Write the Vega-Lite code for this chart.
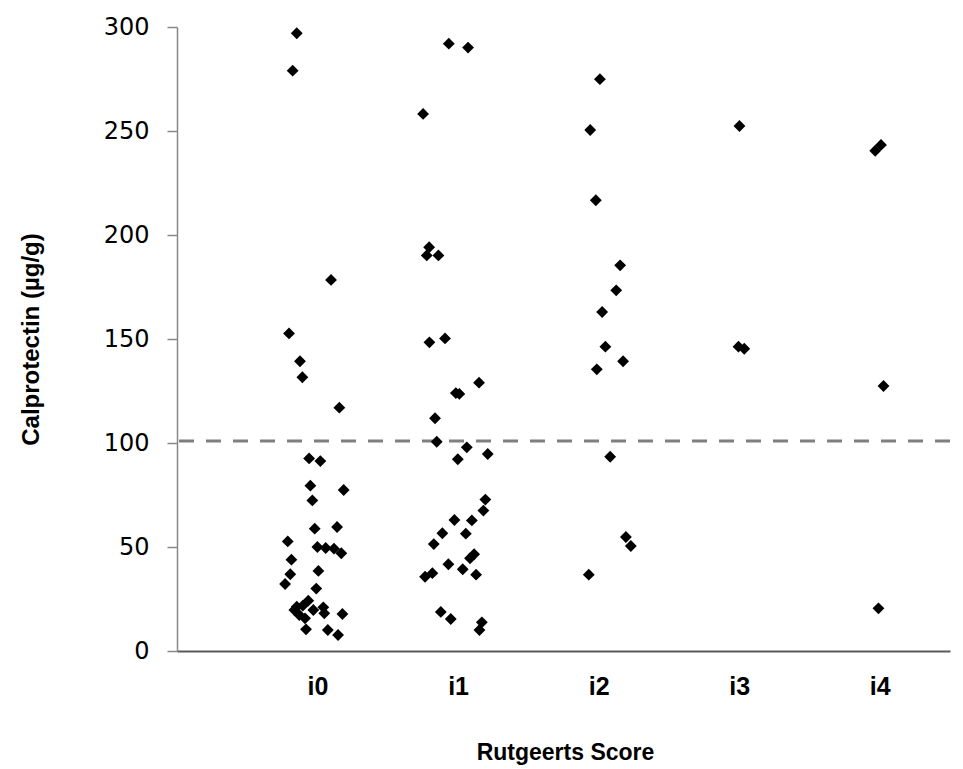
{
  "$schema": "https://vega.github.io/schema/vega-lite/v6.json",
  "width": 773,
  "height": 624,
  "autosize": {"type": "none"},
  "padding": {"left": 177, "top": 27, "right": 13, "bottom": 118},
  "background": "white",
  "config": {"view": {"stroke": null}},
  "datasets": {
    "points": [
      {"x": 0.852, "y": 297.0}, {"x": 0.823, "y": 279.0}, {"x": 1.096, "y": 178.4}, {"x": 0.797, "y": 152.7},
      {"x": 0.875, "y": 139.3}, {"x": 0.892, "y": 131.6}, {"x": 1.155, "y": 117.0}, {"x": 0.940, "y": 92.6},
      {"x": 1.020, "y": 91.3}, {"x": 0.949, "y": 79.5}, {"x": 1.186, "y": 77.4}, {"x": 0.963, "y": 72.4},
      {"x": 0.980, "y": 58.8}, {"x": 1.139, "y": 59.6}, {"x": 0.788, "y": 52.7}, {"x": 0.999, "y": 50.0},
      {"x": 1.058, "y": 49.5}, {"x": 1.117, "y": 49.2}, {"x": 1.169, "y": 47.0}, {"x": 0.814, "y": 43.9},
      {"x": 1.006, "y": 38.5}, {"x": 0.806, "y": 36.9}, {"x": 0.769, "y": 32.2}, {"x": 0.991, "y": 30.0},
      {"x": 0.934, "y": 24.2}, {"x": 0.852, "y": 21.3}, {"x": 0.895, "y": 21.8}, {"x": 0.835, "y": 19.7},
      {"x": 0.870, "y": 17.3}, {"x": 0.911, "y": 15.7}, {"x": 0.970, "y": 19.7}, {"x": 1.041, "y": 21.0},
      {"x": 1.048, "y": 18.1}, {"x": 1.177, "y": 17.8}, {"x": 0.918, "y": 10.4}, {"x": 1.073, "y": 10.1},
      {"x": 1.146, "y": 7.7},
      {"x": 1.934, "y": 292.0}, {"x": 2.071, "y": 290.1}, {"x": 1.751, "y": 258.2}, {"x": 1.794, "y": 194.1},
      {"x": 1.777, "y": 190.2}, {"x": 1.860, "y": 190.2}, {"x": 1.796, "y": 148.4}, {"x": 1.907, "y": 150.3},
      {"x": 2.149, "y": 129.0}, {"x": 1.984, "y": 124.0}, {"x": 2.009, "y": 123.6}, {"x": 1.836, "y": 111.9},
      {"x": 1.848, "y": 100.6}, {"x": 2.062, "y": 97.9}, {"x": 1.998, "y": 92.2}, {"x": 2.211, "y": 94.7},
      {"x": 2.194, "y": 72.8}, {"x": 2.180, "y": 67.5}, {"x": 1.974, "y": 63.0}, {"x": 2.098, "y": 62.8},
      {"x": 1.888, "y": 56.6}, {"x": 2.055, "y": 56.4}, {"x": 1.827, "y": 51.4}, {"x": 2.114, "y": 46.5},
      {"x": 2.085, "y": 44.6}, {"x": 1.931, "y": 41.7}, {"x": 2.033, "y": 39.3}, {"x": 1.817, "y": 37.4},
      {"x": 1.765, "y": 35.7}, {"x": 2.128, "y": 36.7}, {"x": 1.877, "y": 18.8}, {"x": 1.948, "y": 15.4},
      {"x": 2.169, "y": 13.8}, {"x": 2.152, "y": 10.1},
      {"x": 3.009, "y": 274.9}, {"x": 2.940, "y": 250.5}, {"x": 2.980, "y": 216.7}, {"x": 3.153, "y": 185.4},
      {"x": 3.125, "y": 173.4}, {"x": 3.025, "y": 163.0}, {"x": 3.048, "y": 146.3}, {"x": 3.174, "y": 139.3},
      {"x": 2.987, "y": 135.4}, {"x": 3.082, "y": 93.4}, {"x": 3.194, "y": 54.8}, {"x": 3.229, "y": 50.5},
      {"x": 2.930, "y": 36.7},
      {"x": 4.002, "y": 252.4}, {"x": 3.995, "y": 146.3}, {"x": 4.036, "y": 145.3},
      {"x": 4.968, "y": 240.5}, {"x": 5.009, "y": 243.3}, {"x": 5.027, "y": 127.4}, {"x": 4.991, "y": 20.5}
    ],
    "threshold": [{"value": 101}]
  },
  "layer": [
    {
      "data": {"name": "threshold"},
      "mark": {"type": "rule", "color": "#7f7f7f", "strokeWidth": 3, "strokeDash": [15, 12]},
      "encoding": {
        "y": {"field": "value", "type": "quantitative", "scale": {"domain": [0, 300]}}
      }
    },
    {
      "data": {"name": "points"},
      "mark": {"type": "point", "shape": "diamond", "filled": true, "color": "#000000", "opacity": 1, "size": 140},
      "encoding": {
        "x": {
          "field": "x", "type": "quantitative",
          "scale": {"domain": [0, 5.5], "nice": false, "zero": false},
          "axis": {
            "values": [1, 2, 3, 4, 5],
            "labelExpr": "'i' + (datum.value - 1)",
            "grid": false,
            "ticks": false,
            "domainColor": "#5a5a5a",
            "domainWidth": 2,
            "labelFont": "Liberation Sans",
            "labelFontWeight": "bold",
            "labelFontSize": 25,
            "labelColor": "#000000",
            "labelPadding": 23,
            "title": "Rutgeerts Score",
            "titleFont": "Liberation Sans",
            "titleFontWeight": "bold",
            "titleFontSize": 23,
            "titleColor": "#000000",
            "titleBaseline": "middle",
            "titleY": 101,
            "titleX": 388
          }
        },
        "y": {
          "field": "y", "type": "quantitative",
          "scale": {"domain": [0, 300], "nice": false},
          "axis": {
            "values": [0, 50, 100, 150, 200, 250, 300],
            "grid": false,
            "domainColor": "#888888",
            "domainWidth": 1.5,
            "tickColor": "#888888",
            "tickSize": 10,
            "tickWidth": 1.5,
            "labelFont": "DejaVu Sans",
            "labelFontSize": 24,
            "labelColor": "#000000",
            "labelPadding": 18,
            "title": "Calprotectin (µg/g)",
            "titleFont": "Liberation Sans",
            "titleFontWeight": "bold",
            "titleFontSize": 24,
            "titleColor": "#000000",
            "titleBaseline": "middle",
            "titleX": -146,
            "titleY": 312
          }
        }
      }
    }
  ]
}
